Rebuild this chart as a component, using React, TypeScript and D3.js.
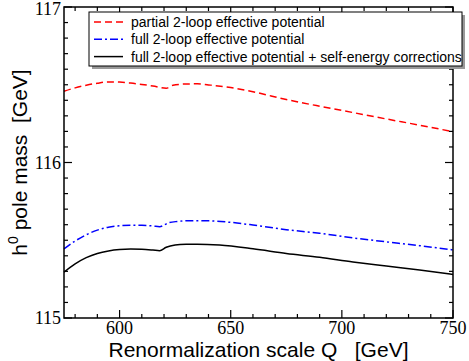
import React from 'react';
import * as d3 from 'd3';

const W = 469;
const H = 361;

// renormalization scale Q [GeV]
const partialQ = [575, 580, 585, 590, 595, 600, 605, 610, 615, 621, 624, 630, 635, 640, 650, 660, 675, 690, 700, 720, 735, 750];
const partialMass = [116.458, 116.48, 116.497, 116.51, 116.518, 116.517, 116.511, 116.502, 116.492, 116.478, 116.497, 116.505, 116.506, 116.499, 116.482, 116.455, 116.405, 116.362, 116.335, 116.28, 116.24, 116.198];

const fullQ = [575, 580, 585, 590, 595, 600, 605, 610, 615, 618, 622, 626, 632, 640, 650, 660, 675, 690, 705, 720, 735, 750];
const fullMass = [115.444, 115.495, 115.535, 115.565, 115.584, 115.593, 115.597, 115.596, 115.592, 115.587, 115.612, 115.621, 115.626, 115.625, 115.615, 115.598, 115.568, 115.545, 115.515, 115.49, 115.465, 115.438];

const seQ = [575, 580, 585, 590, 595, 600, 605, 610, 615, 618, 621, 625, 630, 635, 645, 660, 675, 690, 705, 720, 735, 750];
const seMass = [115.295, 115.348, 115.388, 115.415, 115.431, 115.44, 115.443, 115.442, 115.437, 115.433, 115.455, 115.469, 115.474, 115.475, 115.469, 115.445, 115.415, 115.39, 115.36, 115.334, 115.308, 115.28];

const xTicks = [600, 650, 700, 750];
const yTicks = [115, 116, 117];

const legendLabels = [
  'partial 2-loop effective potential',
  'full 2-loop effective potential',
  'full 2-loop effective potential + self-energy corrections',
];

const series = [
  { q: partialQ, m: partialMass, color: '#ff0000', dash: '7,4' },
  { q: fullQ, m: fullMass, color: '#0000ff', dash: '8,3,2,3' },
  { q: seQ, m: seMass, color: '#000000', dash: null },
];

const App = () => {
  const left = 64, right = 453, top = 7, bottom = 318;
  const x = d3.scaleLinear().domain([575, 750]).range([left, right]);
  const y = d3.scaleLinear().domain([115, 117]).range([bottom, top]);

  const xMinor = d3.range(580, 751, 10);
  const yMinor = d3.range(0, 21).map((i) => 115 + i * 0.1);

  const line = (q, m) =>
    d3
      .line()
      .x((d) => x(d[0]))
      .y((d) => y(d[1]))
      .curve(d3.curveMonotoneX)(q.map((v, i) => [v, m[i]]));

  const serif = '"Liberation Serif", "Times New Roman", serif';
  const sans = '"Liberation Sans", Arial, sans-serif';

  return (
    <svg width={W} height={H} style={{ position: 'absolute', left: 0, top: 0, background: '#fff' }}>
      <g>
        {series.map((s, i) => (
          <path
            key={i}
            d={line(s.q, s.m)}
            fill="none"
            stroke={s.color}
            strokeWidth={1.5}
            strokeDasharray={s.dash || undefined}
          />
        ))}
      </g>

      {/* ticks */}
      <g stroke="#000" strokeWidth={1.2}>
        {xMinor.map((v) => {
          const len = v % 50 === 0 ? 8 : 4;
          return (
            <g key={'x' + v}>
              <line x1={x(v)} x2={x(v)} y1={bottom} y2={bottom - len} />
              <line x1={x(v)} x2={x(v)} y1={top} y2={top + len} />
            </g>
          );
        })}
        {yMinor.map((v, i) => {
          const len = i % 10 === 0 ? 8 : 4;
          return (
            <g key={'y' + i}>
              <line x1={left} x2={left + len} y1={y(v)} y2={y(v)} />
              <line x1={right} x2={right - len} y1={y(v)} y2={y(v)} />
            </g>
          );
        })}
      </g>

      <rect x={left} y={top} width={right - left} height={bottom - top} fill="none" stroke="#000" strokeWidth={1.5} />

      {/* tick labels */}
      <g fontFamily={serif} fontSize={18} fill="#000">
        {xTicks.map((v) => (
          <text key={v} x={x(v)} y={334} textAnchor="middle">
            {v}
          </text>
        ))}
        {yTicks.map((v) => (
          <text key={v} x={61} y={Math.max(y(v) + 6, 15)} textAnchor="end">
            {v}
          </text>
        ))}
      </g>

      {/* axis titles */}
      <text
        x={(left + right) / 2}
        y={357}
        textAnchor="middle"
        fontFamily={sans}
        fontSize={21}
        style={{ whiteSpace: 'pre' }}
      >
        {'Renormalization scale Q   [GeV]'}
      </text>
      <text
        transform={`translate(27,${(top + bottom) / 2}) rotate(-90)`}
        textAnchor="middle"
        fontFamily={sans}
        fontSize={21}
        style={{ whiteSpace: 'pre' }}
      >
        h<tspan fontSize={14} dy={-9}>0</tspan>
        <tspan dy={9}>{' pole mass  [GeV]'}</tspan>
      </text>

      {/* legend */}
      <rect x={92} y={15} width={373} height={54} fill="#999" />
      <rect x={89} y={12} width={373} height={54} fill="#fff" stroke="#000" strokeWidth={1} />
      {series.map((s, i) => {
        const ly = 22 + i * 17.3;
        return (
          <g key={'lg' + i}>
            <line x1={94} x2={123} y1={ly} y2={ly} stroke={s.color} strokeWidth={1.5} strokeDasharray={s.dash || undefined} />
            <text x={131} y={ly + 5} fontFamily={sans} fontSize={14}>
              {legendLabels[i]}
            </text>
          </g>
        );
      })}
    </svg>
  );
};

export default App;
